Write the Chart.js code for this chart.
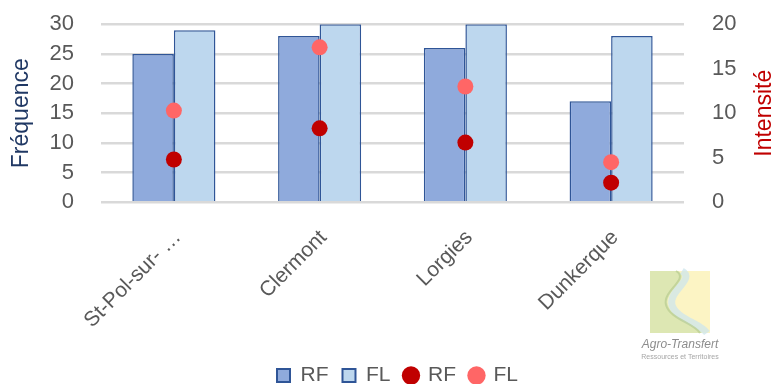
<!DOCTYPE html>
<html>
<head>
<meta charset="utf-8">
<script src="https://cdn.jsdelivr.net/npm/chart.js@4/dist/chart.umd.min.js"></script>
<style>
  html, body { margin: 0; padding: 0; background: #fff; overflow: hidden; }
  #wrap { width: 775px; height: 384px; }
</style>
</head>
<body>
<div id="wrap"><canvas id="c" width="775" height="384"></canvas></div>
<script>
// Stations and measured values
const categories = ['St-Pol-sur- …', 'Clermont', 'Lorgies', 'Dunkerque'];
const freqRF = [25, 28, 26, 17];
const freqFL = [29, 30, 30, 28];
const intensRF = [4.8, 8.3, 6.7, 2.2];
const intensFL = [10.3, 17.4, 13.0, 4.5];
const leftTicks = [0, 5, 10, 15, 20, 25, 30];
const rightTicks = [0, 5, 10, 15, 20];

const grey = '#595959';
const family = '"Liberation Sans", Arial, sans-serif';

// Both axis titles, written bottom-to-top
const axisTitlesPlugin = {
  id: 'axisTitles',
  afterDraw(chart) {
    const ctx = chart.ctx;
    const area = chart.chartArea;
    const midY = (area.top + area.bottom) / 2;
    const draw = (text, x, color) => {
      ctx.save();
      ctx.translate(x, midY);
      ctx.rotate(-Math.PI / 2);
      ctx.fillStyle = color;
      ctx.font = '23px ' + family;
      ctx.textAlign = 'center';
      ctx.textBaseline = 'middle';
      ctx.fillText(text, 0, 0);
      ctx.restore();
    };
    draw('Fréquence', 22, '#203864');
    draw('Intensité', 765, '#C00000');
  }
};

// Agro-Transfert logo, drawn faintly in the lower-right corner
const logoPlugin = {
  id: 'logo',
  afterDraw(chart) {
    const ctx = chart.ctx;
    ctx.save();
    ctx.globalAlpha = 0.75;
    const x0 = 650, y0 = 271, w = 60, h = 62;
    ctx.fillStyle = '#FBF0B0';
    ctx.fillRect(x0, y0, w, h);
    // green band on the left
    ctx.fillStyle = '#D3E3AE';
    ctx.beginPath();
    ctx.moveTo(x0, y0);
    ctx.lineTo(x0 + 28, y0);
    ctx.bezierCurveTo(x0 + 42, y0 + 8, x0 + 14, y0 + 20, x0 + 18, y0 + 34);
    ctx.bezierCurveTo(x0 + 22, y0 + 48, x0 + 46, y0 + 52, x0 + 52, y0 + h);
    ctx.lineTo(x0, y0 + h);
    ctx.closePath();
    ctx.fill();
    // river
    ctx.strokeStyle = '#CDE5EC';
    ctx.lineWidth = 7;
    ctx.beginPath();
    ctx.moveTo(x0 + 32, y0);
    ctx.bezierCurveTo(x0 + 46, y0 + 8, x0 + 18, y0 + 20, x0 + 22, y0 + 34);
    ctx.bezierCurveTo(x0 + 26, y0 + 48, x0 + 50, y0 + 52, x0 + 57, y0 + h);
    ctx.stroke();
    ctx.strokeStyle = '#B9CD92';
    ctx.lineWidth = 2;
    ctx.beginPath();
    ctx.moveTo(x0 + 26, y0);
    ctx.bezierCurveTo(x0 + 40, y0 + 8, x0 + 12, y0 + 20, x0 + 16, y0 + 34);
    ctx.bezierCurveTo(x0 + 20, y0 + 48, x0 + 44, y0 + 52, x0 + 50, y0 + h);
    ctx.stroke();
    ctx.globalAlpha = 1;
    ctx.fillStyle = '#8C8C8C';
    ctx.textAlign = 'center';
    ctx.textBaseline = 'middle';
    ctx.font = 'italic 12px ' + family;
    ctx.fillText('Agro-Transfert', 680, 345);
    ctx.fillStyle = '#A6A6A6';
    ctx.font = '7px ' + family;
    ctx.fillText('Ressources et Territoires', 680, 357);
    ctx.restore();
  }
};

new Chart(document.getElementById('c'), {
  data: {
    labels: categories,
    datasets: [
      {
        type: 'line', label: 'RF', data: intensRF, yAxisID: 'y2',
        showLine: false, pointStyle: 'circle', pointRadius: 8, pointHoverRadius: 8,
        backgroundColor: '#C00000', borderColor: '#C00000', borderWidth: 0, order: 0
      },
      {
        type: 'line', label: 'FL', data: intensFL, yAxisID: 'y2',
        showLine: false, pointStyle: 'circle', pointRadius: 8, pointHoverRadius: 8,
        backgroundColor: '#FF6666', borderColor: '#FF6666', borderWidth: 0, order: 0
      },
      {
        type: 'bar', label: 'RF', data: freqRF, yAxisID: 'y',
        backgroundColor: '#8FAADC', borderColor: '#2F5597', borderWidth: 1.5,
        pointStyle: 'rect', order: 1
      },
      {
        type: 'bar', label: 'FL', data: freqFL, yAxisID: 'y',
        backgroundColor: '#BDD7EE', borderColor: '#2F5597', borderWidth: 1.5,
        pointStyle: 'rect', order: 1
      }
    ]
  },
  options: {
    responsive: false,
    animation: false,
    layout: { padding: { top: 0, left: 20, right: 0, bottom: -12 } },
    datasets: { bar: { categoryPercentage: 0.57, barPercentage: 1.0 } },
    plugins: {
      tooltip: { enabled: false },
      legend: {
        position: 'bottom',
        labels: {
          usePointStyle: true,
          boxWidth: 13, boxHeight: 13,
          padding: 14,
          color: grey,
          font: { size: 21, family },
          generateLabels(chart) {
            const items = Chart.defaults.plugins.legend.labels.generateLabels(chart);
            // bars first (RF, FL), then intensity points (RF, FL)
            const order = [2, 3, 0, 1];
            return order.map(i => {
              const it = items.find(x => x.datasetIndex === i);
              if (i >= 2) it.lineWidth = 2;
              return it;
            });
          }
        }
      }
    },
    scales: {
      x: {
        offset: true,
        grid: { display: false },
        border: { display: false },
        afterFit(scale) { scale.paddingLeft = 0; scale.paddingRight = 0; scale.height += 3; },
        ticks: {
          color: grey, maxRotation: 45, minRotation: 45, padding: 15, labelOffset: 4,
          font: { size: 21, family }
        }
      },
      y: {
        position: 'left', min: 0, max: 30,
        afterBuildTicks(axis) { axis.ticks = leftTicks.map(v => ({ value: v })); },
        afterFit(scale) { scale.width = 81; },
        grid: { color: '#D9D9D9', lineWidth: 2.5, drawTicks: true, tickLength: 16, tickColor: 'rgba(0,0,0,0)' },
        border: { display: false },
        ticks: {
          color: grey, padding: 11, autoSkip: false,
          font: { size: 22, family }
        }
      },
      y2: {
        position: 'right', min: 0, max: 20,
        afterBuildTicks(axis) { axis.ticks = rightTicks.map(v => ({ value: v })); },
        afterFit(scale) { scale.width = 91; },
        grid: { display: true, drawOnChartArea: false, drawTicks: true, tickLength: 17, tickColor: 'rgba(0,0,0,0)' },
        border: { display: false },
        ticks: {
          color: grey, padding: 11, autoSkip: false,
          font: { size: 22, family }
        }
      }
    }
  },
  plugins: [logoPlugin, axisTitlesPlugin]
});
</script>
</body>
</html>
